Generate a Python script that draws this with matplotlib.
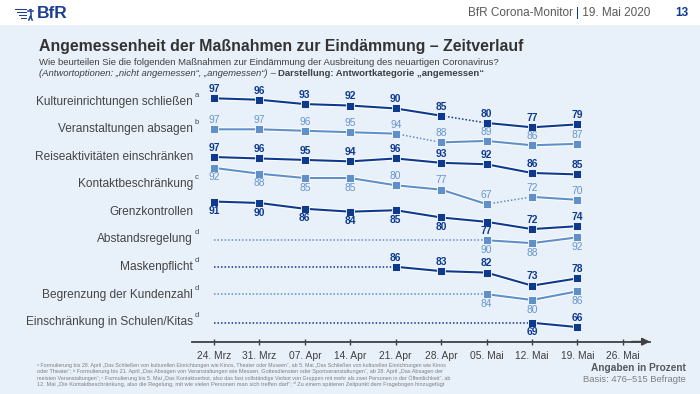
import matplotlib
matplotlib.use("Agg")
import matplotlib.pyplot as plt
import matplotlib.patheffects as pe
from matplotlib.patches import Rectangle, Circle
from matplotlib.lines import Line2D
from matplotlib import font_manager

# ---------------- data ----------------
dates = ["24. Mrz", "31. Mrz", "07. Apr", "14. Apr", "21. Apr",
         "28. Apr", "05. Mai", "12. Mai", "19. Mai", "26. Mai"]
categories = ["Kultureinrichtungen schließen", "Veranstaltungen absagen",
              "Reiseaktivitäten einschränken", "Kontaktbeschränkung",
              "Grenzkontrollen", "Abstandsregelung", "Maskenpflicht",
              "Begrenzung der Kundenzahl", "Einschränkung in Schulen/Kitas"]
footmarks = ["a", "b", "", "c", "", "d", "d", "d", "d"]
N = None
kultur = [97, 96, 93, 92, 90, 85, 80, 77, 79]
veranst = [97, 97, 96, 95, 94, 88, 89, 86, 87]
reise = [97, 96, 95, 94, 96, 93, 92, 86, 85]
kontakt = [92, 88, 85, 85, 80, 77, 67, 72, 70]
grenz = [91, 90, 86, 84, 85, 80, 77, 72, 74]
abstand = [N, N, N, N, N, N, 90, 88, 92]
masken = [N, N, N, N, 86, 83, 82, 73, 78]
kunden = [N, N, N, N, N, N, 84, 80, 86]
schulen = [N, N, N, N, N, N, N, 69, 66]
series = [kultur, veranst, reise, kontakt, grenz, abstand, masken, kunden, schulen]

# ---------------- style / layout ----------------
W, H = 700, 394
DARK = "#0d3a8e"
LIGHT = "#5f90c9"
LIGHT_TXT = "#6896cc"
GRAY = "#404040"
BG = "#e8f0fa"

kinds = ["d", "l", "d", "l", "d", "l", "d", "l", "d"]
row_shift = [-0.2, -21.6, -40.7, -43.2, -65.4, -91.1, -105.4, -122.3, -127.0]
dotted_seg = [5, 4, None, 6, None, None, None, None, None]  # segment i -> i+1 dotted
label_pos = [
    "aaaaaaaaa", "aaaaaaaaa", "aaaaaaaaa", "bbbbaaaaa", "bbbbbbbaa",
    "bbbbbbbbb", "aaaaaaaaa", "bbbbbbbbb", "bbbbbbbba",
]

names = {f.name for f in font_manager.fontManager.ttflist}
SANS = ["Liberation Sans", "DejaVu Sans"]
NARROW = ["Liberation Sans Narrow", "Liberation Sans", "DejaVu Sans"] if "Liberation Sans Narrow" in names else SANS
plt.rcParams["font.family"] = SANS


def P(x, y):
    return (x / W, 1 - y / H)


fig = plt.figure(figsize=(W / 100, H / 100), dpi=100)
fig.patch.set_facecolor(BG)
fig.add_artist(Rectangle(P(0, 25), 1, 25 / H, transform=fig.transFigure,
                         facecolor="white", edgecolor="none", zorder=0))
renderer = fig.canvas.get_renderer()


def fit(t, width_px):
    bb = t.get_window_extent(renderer)
    t.set_fontsize(t.get_fontsize() * width_px / bb.width)
    return t


# ---------------- header ----------------
for yy, ln in zip([9.6, 12.6, 15.6, 18.6], [12, 10, 8, 6]):
    fig.add_artist(Rectangle(P(27 - ln, yy + 0.8), ln / W, 1.6 / H,
                             transform=fig.transFigure, facecolor="#1c3f94",
                             edgecolor="none"))
fig.add_artist(Circle(P(30.5, 9.6), 1.4 / W, transform=fig.transFigure,
                      facecolor="#1c3f94", edgecolor="none"))
for (x0, y0, x1, y1) in [(30.5, 11.5, 30.5, 16.5), (27.8, 10.8, 33.2, 10.8),
                         (30.5, 16.5, 28.8, 20), (30.5, 16.5, 32.2, 20)]:
    fig.add_artist(Line2D([x0 / W, x1 / W], [1 - y0 / H, 1 - y1 / H],
                          transform=fig.transFigure, color="#1c3f94", lw=1.1))
fit(fig.text(*P(37, 14), "BfR", fontsize=13, weight="bold", color="#1c3f94",
             va="center", family=SANS), 31)

hdr_full = fig.text(*P(468, 13), "BfR Corona-Monitor | 19. Mai 2020",
                    fontsize=10, color="#595959", va="center", family=NARROW)
fit(hdr_full, 182)
hfs = hdr_full.get_fontsize()
hdr_full.remove()
x = 468
for txt, col in [("BfR Corona-Monitor ", "#595959"), ("|", DARK), (" 19. Mai 2020", "#595959")]:
    t = fig.text(*P(x, 13), txt, fontsize=hfs, color=col, va="center", family=NARROW)
    x += t.get_window_extent(renderer).width
fig.text(*P(688, 13), "13", fontsize=hfs, weight="bold", color=DARK,
         va="center", ha="right", family=NARROW)

# ---------------- title ----------------
fit(fig.text(*P(39, 47), "Angemessenheit der Maßnahmen zur Eindämmung – Zeitverlauf",
             fontsize=11.5, weight="bold", color="#333333", va="center"), 488)
st1 = fit(fig.text(*P(39, 62.5),
                   "Wie beurteilen Sie die folgenden Maßnahmen zur Eindämmung der Ausbreitung des neuartigen Coronavirus?",
                   fontsize=7, color=GRAY, va="center"), 460)
sfs = st1.get_fontsize()
x = 39
for txt, kw in [("(Antwortoptionen: „nicht angemessen“, „angemessen“)", dict(style="italic")),
                (" – ", {}),
                ("Darstellung: Antwortkategorie „angemessen“", dict(weight="bold"))]:
    t = fig.text(*P(x, 73.5), txt, fontsize=sfs, color=GRAY, va="center", **kw)
    x += t.get_window_extent(renderer).width

# ---------------- row labels ----------------
lab_objs = []
for i, cat in enumerate(categories):
    yc = 101.7 + 27.55 * i
    t = fig.text(*P(193, yc), cat, fontsize=8.7, color="#454545", ha="right", va="center")
    lab_objs.append(t)
fit(lab_objs[0], 157)
for t in lab_objs[1:]:
    t.set_fontsize(lab_objs[0].get_fontsize())
for i, fm in enumerate(footmarks):
    if fm:
        yc = 101.7 + 27.55 * i
        fig.text(*P(194.5, yc - 6.5), fm, fontsize=5.5, color="#454545", ha="left", va="center")

# ---------------- chart ----------------
xl = (191.7 - 214) / 45.43
xr = (650 - 214) / 45.43
A, S = 238.65, 1.45
ax = fig.add_axes([191.7 / W, 1 - 341.7 / H, (650 - 191.7) / W, (341.7 - 85) / H])
ax.set_facecolor("none")
ax.set_xlim(xl, xr)
ax.set_ylim((A - 341.7) / S, (A - 85) / S)
for sp in ["left", "top", "right"]:
    ax.spines[sp].set_visible(False)
ax.spines["bottom"].set_color(GRAY)
ax.spines["bottom"].set_linewidth(1.3)
ax.set_yticks([])
ax.set_xticks(range(len(dates)))
ax.set_xticklabels(dates, family=NARROW, fontsize=7.4, color=GRAY)
ax.tick_params(axis="x", direction="inout", length=4, width=1, color=GRAY, pad=5)
ax.annotate("", xy=(1, 0), xytext=(0.96, 0), xycoords="axes fraction",
            arrowprops=dict(arrowstyle="-|>", color=GRAY, lw=1.3,
                            mutation_scale=11, shrinkA=0, shrinkB=0))

outline = [pe.Stroke(linewidth=2.9, foreground="white"), pe.Normal()]
for vals, kind, sh, dseg, lp in zip(series, kinds, row_shift, dotted_seg, label_pos):
    col = DARK if kind == "d" else LIGHT
    tcol = DARK if kind == "d" else LIGHT_TXT
    idx = [i for i, v in enumerate(vals) if v is not None]
    ys = {i: vals[i] + sh for i in idx}
    first = idx[0]
    if first > 0:
        ax.plot([0, first], [ys[first], ys[first]], color=col, lw=1.1,
                linestyle=(0, (1, 1.3)), zorder=2)
    run = [first]
    for i in idx[1:]:
        if dseg is not None and i - 1 == dseg:
            ax.plot(run, [ys[j] for j in run], color=col, lw=1.5,
                    path_effects=outline, zorder=3, solid_capstyle="butt")
            ax.plot([i - 1, i], [ys[i - 1], ys[i]], color=col, lw=1.1,
                    linestyle=(0, (1, 1.3)), zorder=2)
            run = [i]
        else:
            run.append(i)
    if len(run) > 1:
        ax.plot(run, [ys[j] for j in run], color=col, lw=1.5,
                path_effects=outline, zorder=3, solid_capstyle="butt")
    ax.plot(idx, [ys[i] for i in idx], linestyle="none", marker="s",
            markersize=5.1, markerfacecolor=col, markeredgecolor="white",
            markeredgewidth=0.6, zorder=4)
    for i in idx:
        off = 6.6 if lp[i] == "a" else -6.9
        ax.annotate(str(vals[i]), (i, ys[i]), xytext=(0, off),
                    textcoords="offset points", ha="center", va="center",
                    fontsize=7.4, color=tcol,
                    weight="bold" if kind == "d" else "normal", zorder=5)

# ---------------- footnotes ----------------
foot = [
    "ᵃ Formulierung bis 28. April „Das Schließen von kulturellen Einrichtungen wie Kinos, Theater oder Museen“, ab 5. Mai „Das Schließen von kulturellen Einrichtungen wie Kinos",
    "oder Theater“; ᵇ Formulierung bis 21. April „Das Absagen von Veranstaltungen wie Messen, Gottesdiensten oder Sportveranstaltungen“, ab 28. April „Das Absagen der",
    "meisten Veranstaltungen“; ᶜ Formulierung bis 5. Mai „Das Kontaktverbot, also das fast vollständige Verbot von Gruppen mit mehr als zwei Personen in der Öffentlichkeit“, ab",
    "12. Mai „Die Kontaktbeschränkung, also die Regelung, mit wie vielen Personen man sich treffen darf“; ᵈ Zu einem späteren Zeitpunkt dem Fragebogen hinzugefügt",
]
for k, line in enumerate(foot):
    fit(fig.text(*P(37, 365 + 6.4 * k), line, fontsize=3.6, color="#7f7f7f",
                 va="center"), 413)

fit(fig.text(*P(686, 368), "Angaben in Prozent", fontsize=8, weight="bold",
             color="#595959", ha="right", va="center", family=NARROW), 96)
fit(fig.text(*P(686, 380), "Basis: 476–515 Befragte", fontsize=8,
             color="#7f7f7f", ha="right", va="center", family=NARROW), 103)

fig.savefig("out.png", dpi=100, facecolor=fig.get_facecolor())
